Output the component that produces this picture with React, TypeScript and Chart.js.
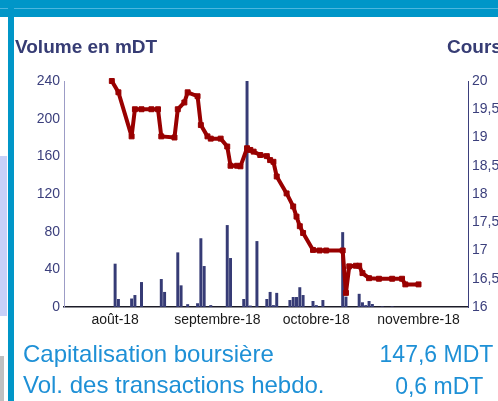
import React, { useEffect, useRef } from 'react';
import { Chart, registerables } from 'chart.js';

Chart.register(...registerables);

const FONT = '"Liberation Sans", Arial, Helvetica, sans-serif';

// Cours (right axis), daily closing prices
const priceDates = [
  '07-31', '08-02', '08-06', '08-07', '08-09', '08-12', '08-14', '08-15', '08-19', '08-20',
  '08-22', '08-23', '08-26', '08-27', '08-29', '08-30', '09-02', '09-04', '09-05', '09-07',
  '09-08', '09-10', '09-11', '09-12', '09-14', '09-16', '09-17', '09-18', '09-19', '09-22',
  '09-24', '09-25', '09-26', '09-27', '09-30', '10-02', '10-04', '10-09', '10-10', '10-11',
  '10-13', '10-14', '10-15', '10-17', '10-20', '10-24', '10-27', '10-28', '11-01',
];
const priceValues = [
  20.0, 19.8, 19.02, 19.5, 19.5, 19.5, 19.5, 19.02, 19.0, 19.5,
  19.62, 19.8, 19.73, 19.22, 19.02, 18.98, 18.98, 18.84, 18.5, 18.5,
  18.49, 18.81, 18.78, 18.75, 18.69, 18.67, 18.6, 18.57, 18.31, 18.01,
  17.78, 17.6, 17.43, 17.31, 17.01, 17.0, 17.0, 17.0, 16.25, 16.72,
  16.73, 16.73, 16.6, 16.51, 16.5, 16.5, 16.5, 16.4, 16.4,
];

// Volume en mDT (left axis)
const volumeDates = [
  '08-01', '08-02', '08-06', '08-07', '08-09', '08-15', '08-16', '08-20', '08-21', '08-23',
  '08-26', '08-27', '08-28', '08-30', '09-04', '09-05', '09-09', '09-10', '09-11', '09-13',
  '09-16', '09-17', '09-18', '09-19', '09-23', '09-24', '09-25', '09-26', '09-27', '09-30',
  '10-01', '10-03', '10-09', '10-10', '10-14', '10-15', '10-16', '10-17', '10-18', '10-21',
  '10-24',
];
const volumeValues = [
  46, 8.5, 9, 12.7, 26.5, 29.7, 16, 58, 23, 3,
  4, 73, 43.5, 2, 87, 52, 8.5, 240, 1.5, 70,
  8.5, 16, 2, 15, 7.4, 10.6, 10.6, 21, 12.7, 6.4,
  2, 7.4, 79.5, 11, 14, 5, 2, 6.4, 3.2, 0.6,
  0.6,
];

const monthTickDates = ['08-01', '09-01', '10-01', '11-01'];
const monthTickLabels = ['août-18', 'septembre-18', 'octobre-18', 'novembre-18'];
const axisStartDate = '07-16';
const axisEndDate = '11-16';

function dayOf(md: string): number {
  const [m, d] = md.split('-').map(Number);
  return (Date.UTC(2018, m - 1, d) - Date.UTC(2018, 6, 16)) / 86400000;
}

export default function App() {
  const canvasRef = useRef<HTMLCanvasElement | null>(null);

  useEffect(() => {
    const canvas = canvasRef.current;
    if (!canvas) return;
    Chart.defaults.font.family = FONT;
    const chart = new Chart(canvas, {
      type: 'bar',
      data: {
        datasets: [
          {
            type: 'line',
            label: 'Cours',
            data: priceDates.map((d, i) => ({ x: dayOf(d), y: priceValues[i] })),
            yAxisID: 'y1',
            borderColor: '#990000',
            backgroundColor: '#990000',
            borderWidth: 4,
            borderJoinStyle: 'bevel',
            pointStyle: 'rect',
            pointRadius: 3.5,
            pointBorderWidth: 1,
            pointBackgroundColor: '#990000',
            pointBorderColor: '#990000',
            tension: 0,
            order: 0,
            clip: 6,
          } as any,
          {
            type: 'bar',
            label: 'Volume',
            data: volumeDates.map((d, i) => ({ x: dayOf(d), y: volumeValues[i] })),
            yAxisID: 'y',
            backgroundColor: '#363B75',
            barPercentage: 1,
            categoryPercentage: 0.9,
            order: 1,
          } as any,
        ],
      },
      options: {
        responsive: false,
        animation: false,
        devicePixelRatio: 1,
        layout: { padding: { top: 81, left: 0, right: 0, bottom: 0 } },
        plugins: {
          legend: { display: false },
          tooltip: { enabled: false },
          title: { display: false },
        },
        scales: {
          x: {
            type: 'linear',
            min: dayOf(axisStartDate) + 0.5,
            max: dayOf(axisEndDate),
            offset: false,
            grid: { display: false, drawTicks: false, offset: false },
            border: { display: true, color: '#1c1c28', width: 1.5 },
            afterBuildTicks: (s: any) => {
              s.ticks = monthTickDates.map((d) => ({ value: dayOf(d) }));
            },
            ticks: {
              autoSkip: false,
              maxRotation: 0,
              padding: 5,
              color: '#1a1a1a',
              font: { size: 14, family: FONT },
              callback: (_v: any, i: number) => monthTickLabels[i],
            },
            afterFit: (s: any) => {
              s.height = 94;
            },
          },
          y: {
            position: 'left',
            min: 0,
            max: 240,
            ticks: { stepSize: 40, color: '#3B3F7C', padding: 4, font: { size: 14, family: FONT } },
            grid: { display: false, drawTicks: false },
            border: { display: true, color: '#9C9CC6', width: 1 },
            afterFit: (s: any) => {
              s.width = 64;
            },
          },
          y1: {
            position: 'right',
            min: 16,
            max: 20,
            ticks: {
              stepSize: 0.5,
              color: '#3B3F7C',
              padding: 4,
              font: { size: 14, family: FONT },
              callback: (v: any) => String(v).replace('.', ','),
            },
            grid: { display: false, drawTicks: false },
            border: { display: true, color: '#3B3F7C', width: 1 },
            afterFit: (s: any) => {
              s.width = 30;
            },
          },
        } as any,
      },
    });
    return () => chart.destroy();
  }, []);

  const abs = (s: React.CSSProperties): React.CSSProperties => ({ position: 'absolute', ...s });

  return (
    <div
      style={{
        position: 'fixed',
        left: 0,
        top: 0,
        width: 498,
        height: 401,
        overflow: 'hidden',
        background: '#ffffff',
        fontFamily: FONT,
      }}
    >
      <div style={abs({ left: 0, top: 0, width: 498, height: 17, background: '#0096C8' })} />
      <div style={abs({ left: 0, top: 8, width: 498, height: 1, background: '#4DB6DE' })} />
      <div style={abs({ left: 8, top: 0, width: 6, height: 401, background: '#0096C8' })} />
      <div style={abs({ left: 0, top: 156, width: 7, height: 160, background: '#C8D0F8' })} />
      <div style={abs({ left: 0, top: 356, width: 4, height: 45, background: '#C0C0C0' })} />
      <canvas ref={canvasRef} width={498} height={401} style={abs({ left: 0, top: 0, width: 498, height: 401 })} />
      <div
        style={abs({
          left: 15,
          top: 36.7,
          fontSize: 19,
          lineHeight: '20px',
          fontWeight: 'bold',
          color: '#363C74',
          whiteSpace: 'nowrap',
        })}
      >
        Volume en mDT
      </div>
      <div
        style={abs({
          left: 447,
          top: 36.7,
          fontSize: 19,
          lineHeight: '20px',
          fontWeight: 'bold',
          color: '#363C74',
          whiteSpace: 'nowrap',
        })}
      >
        Cours
      </div>
      <div style={abs({ left: 23, top: 339.7, fontSize: 24, lineHeight: '28px', color: '#1E90D6', whiteSpace: 'nowrap' })}>
        Capitalisation boursière
      </div>
      <div style={abs({ right: 4.7, top: 340.3, fontSize: 23, lineHeight: '28px', color: '#1E90D6', whiteSpace: 'nowrap' })}>
        147,6 MDT
      </div>
      <div style={abs({ left: 23, top: 371, fontSize: 24, lineHeight: '28px', color: '#1E90D6', whiteSpace: 'nowrap' })}>
        Vol. des transactions hebdo.
      </div>
      <div style={abs({ right: 14.7, top: 371.6, fontSize: 23, lineHeight: '28px', color: '#1E90D6', whiteSpace: 'nowrap' })}>
        0,6 mDT
      </div>
    </div>
  );
}
